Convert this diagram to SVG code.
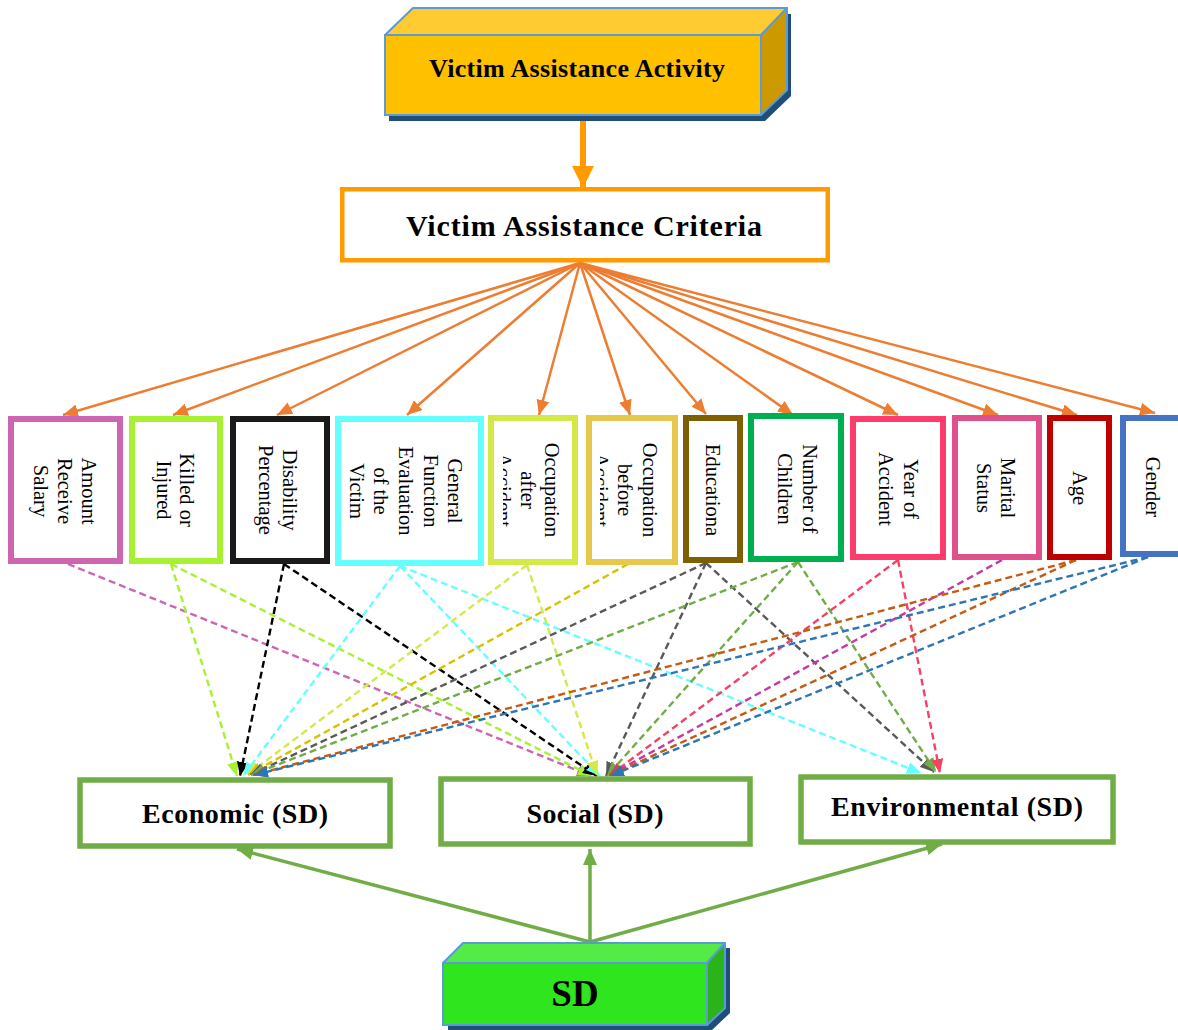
<svg xmlns="http://www.w3.org/2000/svg" width="1178" height="1030" viewBox="0 0 1178 1030">
<style>
.crit{fill:#fff;stroke-width:6}
.vt{font-family:"Liberation Serif","Times New Roman",serif;font-size:20.5px;fill:#000;text-anchor:middle}
.bt{font-family:"Liberation Serif","Times New Roman",serif;font-weight:bold;fill:#000;text-anchor:middle}
.sd{fill:#fff;stroke:#70AD47;stroke-width:5.5}
.fan{stroke:#ED7D31;stroke-width:2.5;fill:none;marker-end:url(#mo)}
.dl{stroke-width:2.4;stroke-dasharray:7 4;fill:none}
.gl{stroke:#70AD47;stroke-width:3.5;fill:none;marker-end:url(#mg)}
</style>
<defs>
<marker id="mo" markerUnits="userSpaceOnUse" markerWidth="15" markerHeight="13" refX="15" refY="6.5" orient="auto"><path d="M0,0 L15,6.5 L0,13 z" fill="#ED7D31"/></marker>
<marker id="mbig" markerUnits="userSpaceOnUse" markerWidth="22" markerHeight="22" refX="22" refY="11" orient="auto"><path d="M0,0 L22,11 L0,22 z" fill="#FF9A00"/></marker>
<marker id="mg" markerUnits="userSpaceOnUse" markerWidth="16" markerHeight="14" refX="16" refY="7" orient="auto"><path d="M0,0 L16,7 L0,14 z" fill="#70AD47"/></marker>
<marker id="m1" markerUnits="userSpaceOnUse" markerWidth="14" markerHeight="12" refX="14" refY="6" orient="auto"><path d="M0,0 L14,6 L0,12 z" fill="#CC66B3"/></marker>
<marker id="m2" markerUnits="userSpaceOnUse" markerWidth="14" markerHeight="12" refX="14" refY="6" orient="auto"><path d="M0,0 L14,6 L0,12 z" fill="#A6F232"/></marker>
<marker id="m3" markerUnits="userSpaceOnUse" markerWidth="14" markerHeight="12" refX="14" refY="6" orient="auto"><path d="M0,0 L14,6 L0,12 z" fill="#000"/></marker>
<marker id="m4" markerUnits="userSpaceOnUse" markerWidth="14" markerHeight="12" refX="14" refY="6" orient="auto"><path d="M0,0 L14,6 L0,12 z" fill="#66FFFF"/></marker>
<marker id="m5" markerUnits="userSpaceOnUse" markerWidth="14" markerHeight="12" refX="14" refY="6" orient="auto"><path d="M0,0 L14,6 L0,12 z" fill="#D4E84A"/></marker>
<marker id="m6" markerUnits="userSpaceOnUse" markerWidth="14" markerHeight="12" refX="14" refY="6" orient="auto"><path d="M0,0 L14,6 L0,12 z" fill="#D4C400"/></marker>
<marker id="m7" markerUnits="userSpaceOnUse" markerWidth="14" markerHeight="12" refX="14" refY="6" orient="auto"><path d="M0,0 L14,6 L0,12 z" fill="#595959"/></marker>
<marker id="m8" markerUnits="userSpaceOnUse" markerWidth="14" markerHeight="12" refX="14" refY="6" orient="auto"><path d="M0,0 L14,6 L0,12 z" fill="#70AD47"/></marker>
<marker id="m9" markerUnits="userSpaceOnUse" markerWidth="14" markerHeight="12" refX="14" refY="6" orient="auto"><path d="M0,0 L14,6 L0,12 z" fill="#F24366"/></marker>
<marker id="m10" markerUnits="userSpaceOnUse" markerWidth="14" markerHeight="12" refX="14" refY="6" orient="auto"><path d="M0,0 L14,6 L0,12 z" fill="#C33AA6"/></marker>
<marker id="m11" markerUnits="userSpaceOnUse" markerWidth="14" markerHeight="12" refX="14" refY="6" orient="auto"><path d="M0,0 L14,6 L0,12 z" fill="#C55A11"/></marker>
<marker id="m12" markerUnits="userSpaceOnUse" markerWidth="14" markerHeight="12" refX="14" refY="6" orient="auto"><path d="M0,0 L14,6 L0,12 z" fill="#2E75B6"/></marker>
<clipPath id="clipOA"><rect x="503" y="420" width="70" height="140"/></clipPath>
<clipPath id="clipOB"><rect x="600" y="420" width="70" height="140"/></clipPath>
</defs>
<rect width="1178" height="1030" fill="#fff"/>

<g id="connectors">
<line x1="583" y1="118" x2="583" y2="188" stroke="#FF9A00" stroke-width="6" marker-end="url(#mbig)"/>
<line class="fan" x1="580" y1="263" x2="63" y2="415"/>
<line class="fan" x1="580" y1="263" x2="173" y2="415"/>
<line class="fan" x1="580" y1="263" x2="277" y2="415"/>
<line class="fan" x1="580" y1="263" x2="407" y2="415"/>
<line class="fan" x1="580" y1="263" x2="539" y2="415"/>
<line class="fan" x1="580" y1="263" x2="630" y2="415"/>
<line class="fan" x1="580" y1="263" x2="706" y2="414"/>
<line class="fan" x1="580" y1="263" x2="793" y2="415"/>
<line class="fan" x1="580" y1="263" x2="898" y2="415"/>
<line class="fan" x1="580" y1="263" x2="998" y2="415"/>
<line class="fan" x1="580" y1="263" x2="1077" y2="415"/>
<line class="fan" x1="580" y1="263" x2="1155" y2="413"/>

<line class="dl" stroke="#CC66B3" marker-end="url(#m1)" x1="68" y1="564" x2="591" y2="776"/>
<line class="dl" stroke="#A6F232" marker-end="url(#m2)" x1="171" y1="564" x2="237" y2="776"/>
<line class="dl" stroke="#A6F232" marker-end="url(#m2)" x1="171" y1="564" x2="592" y2="776"/>
<line class="dl" stroke="#000" marker-end="url(#m3)" x1="284" y1="564" x2="240" y2="776"/>
<line class="dl" stroke="#000" marker-end="url(#m3)" x1="284" y1="564" x2="597" y2="776"/>
<line class="dl" stroke="#66FFFF" marker-end="url(#m4)" x1="400" y1="566" x2="243" y2="776"/>
<line class="dl" stroke="#66FFFF" marker-end="url(#m4)" x1="400" y1="566" x2="600" y2="776"/>
<line class="dl" stroke="#66FFFF" marker-end="url(#m4)" x1="400" y1="566" x2="921" y2="773"/>
<line class="dl" stroke="#D4E84A" marker-end="url(#m5)" x1="527" y1="565" x2="247" y2="775"/>
<line class="dl" stroke="#D4E84A" marker-end="url(#m5)" x1="527" y1="565" x2="597" y2="775"/>
<line class="dl" stroke="#D4C400" marker-end="url(#m6)" x1="628" y1="564" x2="248" y2="775"/>
<line class="dl" stroke="#595959" marker-end="url(#m7)" x1="706" y1="563" x2="250" y2="775"/>
<line class="dl" stroke="#595959" marker-end="url(#m7)" x1="706" y1="563" x2="606" y2="776"/>
<line class="dl" stroke="#595959" marker-end="url(#m7)" x1="706" y1="563" x2="934" y2="772"/>
<line class="dl" stroke="#70AD47" marker-end="url(#m8)" x1="798" y1="562" x2="251" y2="775"/>
<line class="dl" stroke="#70AD47" marker-end="url(#m8)" x1="798" y1="562" x2="607" y2="776"/>
<line class="dl" stroke="#70AD47" marker-end="url(#m8)" x1="798" y1="562" x2="936" y2="772"/>
<line class="dl" stroke="#F24366" marker-end="url(#m9)" x1="898" y1="560" x2="609" y2="776"/>
<line class="dl" stroke="#F24366" marker-end="url(#m9)" x1="898" y1="560" x2="940" y2="773"/>
<line class="dl" stroke="#C33AA6" marker-end="url(#m10)" x1="1002" y1="560" x2="608" y2="776"/>
<line class="dl" stroke="#C55A11" marker-end="url(#m11)" x1="1076" y1="560" x2="253" y2="775"/>
<line class="dl" stroke="#C55A11" marker-end="url(#m11)" x1="1076" y1="560" x2="609" y2="776"/>
<line class="dl" stroke="#2E75B6" marker-end="url(#m12)" x1="1148" y1="557" x2="254" y2="775"/>
<line class="dl" stroke="#2E75B6" marker-end="url(#m12)" x1="1148" y1="557" x2="610" y2="776"/>

<line class="gl" x1="590" y1="942" x2="237" y2="849"/>
<line class="gl" x1="590" y1="942" x2="590" y2="849"/>
<line class="gl" x1="590" y1="942" x2="942" y2="844"/>
</g>

<g id="activity">
<polygon points="389,41 417,14 791,14 791,96 765,121 389,121" fill="#1F4E79"/>
<polygon points="385,35 413,8 787,8 761,35" fill="#FFCB33" stroke="#5B9BD5" stroke-width="2" stroke-linejoin="round"/>
<polygon points="761,35 787,8 787,90 761,115" fill="#CC9A00" stroke="#5B9BD5" stroke-width="2" stroke-linejoin="round"/>
<rect x="385" y="35" width="376" height="80" fill="#FFC000" stroke="#5B9BD5" stroke-width="2"/>
<text class="bt" x="577" y="77" font-size="26" textLength="296" lengthAdjust="spacing">Victim Assistance Activity</text>
</g>

<g id="criteria">
<rect x="342.25" y="189.25" width="485.5" height="71" fill="#fff" stroke="#FF9A00" stroke-width="4.5"/>
<text class="bt" x="584" y="236" font-size="30" textLength="356" lengthAdjust="spacing">Victim Assistance Criteria</text>
</g>

<g id="n-amount">
<rect class="crit" x="11" y="419" width="109" height="142" stroke="#CC66B3"/>
<text class="vt" transform="translate(82,491) rotate(90)">Amount</text>
<text class="vt" transform="translate(58,491) rotate(90)">Receive</text>
<text class="vt" transform="translate(34,491) rotate(90)">Salary</text>
</g>
<g id="n-killed">
<rect class="crit" x="132" y="419" width="88" height="142" stroke="#A6F232"/>
<text class="vt" transform="translate(180,490) rotate(90)">Killed or</text>
<text class="vt" transform="translate(157,490) rotate(90)">Injured</text>
</g>
<g id="n-disability">
<rect class="crit" x="233" y="419" width="94" height="142" stroke="#1A1A1A"/>
<text class="vt" transform="translate(283,490) rotate(90)">Disability</text>
<text class="vt" transform="translate(259,490) rotate(90)">Percentage</text>
</g>
<g id="n-general">
<rect class="crit" x="338" y="419" width="143" height="144" stroke="#66FFFF"/>
<text class="vt" transform="translate(448,491) rotate(90)">General</text>
<text class="vt" transform="translate(424,491) rotate(90)">Function</text>
<text class="vt" transform="translate(399,491) rotate(90)">Evaluation</text>
<text class="vt" transform="translate(374,491) rotate(90)">of the</text>
<text class="vt" transform="translate(350,491) rotate(90)">Victim</text>
</g>
<g id="n-occ-after">
<rect class="crit" x="491" y="418" width="84" height="144" stroke="#D4E84A"/>
<text class="vt" transform="translate(545,490) rotate(90)">Occupation</text>
<text class="vt" transform="translate(521,490) rotate(90)">after</text>
<g clip-path="url(#clipOA)"><text class="vt" transform="translate(497,490) rotate(90)">Accident</text></g>
</g>
<g id="n-occ-before">
<rect class="crit" x="589" y="418" width="86" height="144" stroke="#E6C84C"/>
<text class="vt" transform="translate(643,490) rotate(90)">Occupation</text>
<text class="vt" transform="translate(618,490) rotate(90)">before</text>
<g clip-path="url(#clipOB)"><text class="vt" transform="translate(594,490) rotate(90)">Accident</text></g>
</g>
<g id="n-education">
<rect class="crit" x="686" y="418" width="54" height="142" stroke="#7F6000"/>
<text class="vt" transform="translate(706,490) rotate(90)">Educationa</text>
</g>
<g id="n-children">
<rect class="crit" x="751" y="416" width="90" height="143" stroke="#00B050"/>
<text class="vt" transform="translate(803,489) rotate(90)">Number of</text>
<text class="vt" transform="translate(778,489) rotate(90)">Children</text>
</g>
<g id="n-year">
<rect class="crit" x="853" y="419" width="90" height="138" stroke="#FF3B6E"/>
<text class="vt" transform="translate(904,489) rotate(90)">Year of</text>
<text class="vt" transform="translate(879,489) rotate(90)">Accident</text>
</g>
<g id="n-marital">
<rect class="crit" x="955" y="418" width="84" height="139" stroke="#E0508A"/>
<text class="vt" transform="translate(1001,488) rotate(90)">Marital</text>
<text class="vt" transform="translate(977,488) rotate(90)">Status</text>
</g>
<g id="n-age">
<rect class="crit" x="1050" y="418" width="59" height="139" stroke="#C00000"/>
<text class="vt" transform="translate(1073,488) rotate(90)">Age</text>
</g>
<g id="n-gender">
<rect class="crit" x="1123" y="418" width="80" height="136" stroke="#4472C4"/>
<text class="vt" transform="translate(1146,487) rotate(90)">Gender</text>
</g>

<g id="economic">
<rect class="sd" x="80" y="780" width="310" height="66"/>
<text class="bt" x="235" y="823" font-size="28" textLength="186" lengthAdjust="spacing">Economic (SD)</text>
</g>
<g id="social">
<rect class="sd" x="441" y="779" width="309" height="65"/>
<text class="bt" x="595" y="823" font-size="28" textLength="137" lengthAdjust="spacing">Social (SD)</text>
</g>
<g id="environmental">
<rect class="sd" x="801" y="777" width="312" height="65"/>
<text class="bt" x="957" y="816" font-size="28" textLength="252" lengthAdjust="spacing">Environmental (SD)</text>
</g>

<g id="sd">
<polygon points="448,968 468,948 730,948 730,1013 712,1030 448,1030" fill="#1F4E79"/>
<polygon points="443,963 463,943 725,943 707,963" fill="#55EB46" stroke="#5B9BD5" stroke-width="2" stroke-linejoin="round"/>
<polygon points="707,963 725,943 725,1008 707,1025" fill="#2AB41A" stroke="#5B9BD5" stroke-width="2" stroke-linejoin="round"/>
<rect x="443" y="963" width="264" height="62" fill="#2EE51E" stroke="#5B9BD5" stroke-width="2"/>
<text class="bt" x="575" y="1006" font-size="37">SD</text>
</g>
</svg>
